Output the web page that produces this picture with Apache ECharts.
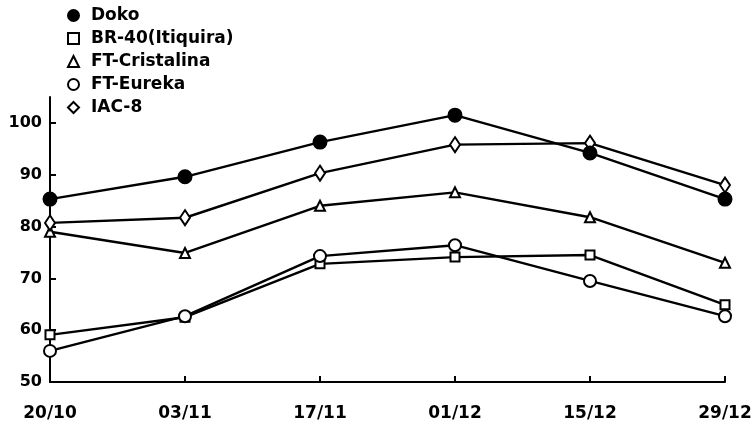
<!DOCTYPE html>
<html>
<head>
<meta charset="utf-8">
<script src="https://cdn.jsdelivr.net/npm/echarts@6/dist/echarts.min.js"></script>
<style>
  html, body { margin: 0; padding: 0; background: #fff; }
  #chart { width: 755px; height: 424px; }
</style>
</head>
<body>
<div id="chart"></div>
<script>
// dates on the x axis
var dates = ['20/10', '03/11', '17/11', '01/12', '15/12', '29/12'];
var yTicks = [50, 60, 70, 80, 90, 100];

// values
var doko = [85.3, 89.6, 96.3, 101.5, 94.2, 85.3];
var br40 = [59.1, 62.5, 72.8, 74.1, 74.5, 64.9];
var cristalina = [79.0, 74.9, 84.0, 86.6, 81.8, 73.0];
var eureka = [56.0, 62.7, 74.3, 76.4, 69.5, 62.7];
var iac8 = [80.7, 81.7, 90.3, 95.8, 96.1, 88.0];

var font = 'DejaVu Sans';

function serie(name, data, symbol, size) {
  return {
    name: name,
    type: 'line',
    data: data,
    symbol: symbol,
    symbolSize: size,
    showAllSymbol: true,
    color: '#000',
    lineStyle: { color: '#000', width: 2.4 },
    itemStyle: { color: '#000', borderColor: '#000', borderWidth: 2 },
    emphasis: { disabled: true },
    animation: false
  };
}

var chart = echarts.init(document.getElementById('chart'));
chart.setOption({
  backgroundColor: '#fff',
  animation: false,
  legend: {
    orient: 'vertical',
    left: 67,
    top: 7,
    padding: 0,
    itemGap: 6,
    itemWidth: 11,
    itemHeight: 11,
    textStyle: { fontFamily: font, fontWeight: 'bold', fontSize: 17, color: '#000', padding: [0, 0, 0, 7] },
    data: [
      { name: 'Doko', icon: 'circle' },
      { name: 'BR-40(Itiquira)', icon: 'emptyRect' },
      { name: 'FT-Cristalina', icon: 'emptyTriangle' },
      { name: 'FT-Eureka', icon: 'emptyCircle' },
      { name: 'IAC-8', icon: 'emptyDiamond' }
    ]
  },
  grid: { left: 50, right: 30, top: 97, bottom: 42 },
  xAxis: {
    type: 'category',
    data: dates,
    boundaryGap: false,
    axisLine: { lineStyle: { color: '#000', width: 2 } },
    axisTick: { inside: true, length: 6, lineStyle: { color: '#000', width: 2 } },
    axisLabel: { margin: 23, color: '#000', fontFamily: font, fontWeight: 'bold', fontSize: 17 },
    splitLine: { show: false }
  },
  yAxis: {
    type: 'value',
    min: 50,
    max: 105,
    interval: 10,
    axisLine: { show: true, lineStyle: { color: '#000', width: 2 } },
    axisTick: { show: true, inside: true, length: 6, customValues: yTicks, lineStyle: { color: '#000', width: 2 } },
    axisLabel: { margin: 8, customValues: yTicks, color: '#000', fontFamily: font, fontWeight: 'bold', fontSize: 16 },
    splitLine: { show: false }
  },
  series: [
    serie('BR-40(Itiquira)', br40, 'emptyRect', 9),
    serie('FT-Eureka', eureka, 'emptyCircle', 12),
    serie('FT-Cristalina', cristalina, 'emptyTriangle', 10),
    serie('IAC-8', iac8, 'emptyDiamond', [10, 15]),
    serie('Doko', doko, 'circle', 13)
  ]
});
</script>
</body>
</html>
